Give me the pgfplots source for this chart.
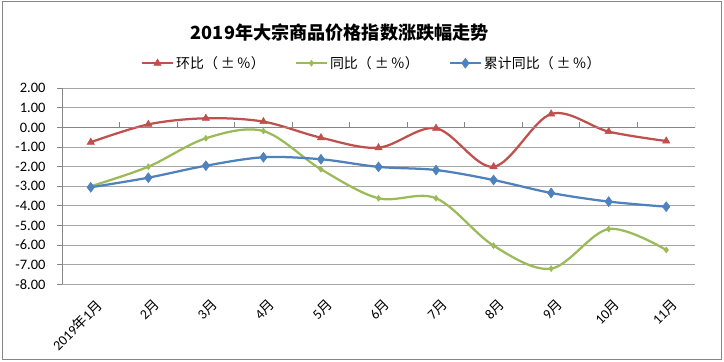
\documentclass[border=0pt]{standalone}
\usepackage{pgfplots}
\pgfplotsset{compat=1.18}
\usepackage{fontspec}
\setmainfont{Carlito}
\newfontfamily\cjk{Noto Sans CJK SC}
\definecolor{cred}{HTML}{C0504D}
\definecolor{cgreen}{HTML}{9BBB59}
\definecolor{cblue}{HTML}{4F81BD}
\definecolor{gridc}{HTML}{A6A6A6}
\definecolor{axc}{HTML}{868686}
\newcommand{\yue}{{\cjk 月}}
\newcommand{\pmpct}{（\hspace{3bp}±\hspace{2bp}％）}
\begin{document}
\begin{tikzpicture}
\useasboundingbox (-62bp,-77.7bp) rectangle (662bp,284.3bp);
\draw[axc, line width=0.9bp] (-59.3bp,-75bp) rectangle (659.7bp,282.6bp);
\begin{axis}[
  at={(0,0)}, anchor=south west,
  scale only axis, width=633bp, height=196bp,
  xmin=-0.5, xmax=10.5, ymin=-8, ymax=2,
  axis lines*=left,
  x axis line style={draw=none},
  y axis line style={axc, line width=0.9bp},
  xtick={0,...,10},
  xticklabels={{2019{\cjk 年}1\yue},{2\yue},{3\yue},{4\yue},{5\yue},{6\yue},{7\yue},{8\yue},{9\yue},{10\yue},{11\yue}},
  x tick style={draw=none},
  xticklabel style={rotate=45, anchor=north east, font=\fontsize{14}{14}\selectfont, inner sep=0pt, xshift=-3bp, yshift=-9bp},
  ytick={-8,...,2},
  y tick style={axc, line width=0.9bp},
  tick align=outside, major tick length=5bp,
  yticklabel style={font=\fontsize{14.5}{14.5}\selectfont, xshift=-8bp},
  /pgf/number format/assume math mode=true,
  yticklabel={\pgfmathprintnumber[fixed, fixed zerofill, precision=2]{\tick}},
  ymajorgrids,
  grid style={gridc, line width=0.9bp},
  title={\cjk\bfseries 2019年大宗商品价格指数涨跌幅走势},
  title style={at={(axis description cs:0.439,1.256)}, anchor=center, font=\fontsize{18.2}{18.2}\selectfont},
  legend columns=3,
  legend style={draw=none, fill=none, at={(axis description cs:0.1243,1.128)}, anchor=west, inner sep=0pt,
    font=\cjk\fontsize{14}{14}\selectfont, /tikz/every even column/.append style={column sep=28bp}},
  legend image code/.code={\draw[mark repeat=2, mark phase=2] plot coordinates {(0bp,0bp)(15.5bp,0bp)(31bp,0bp)};},
  every axis plot/.append style={line width=2.25bp, smooth, tension=0.55},
]
\addplot[cred, mark=triangle*, mark size=4.2bp, mark options={solid, line width=0.5bp}] coordinates {
(0,-0.75)(1,0.16)(2,0.47)(3,0.30)(4,-0.52)(5,-1.03)(6,-0.04)(7,-2.00)(8,0.69)(9,-0.21)(10,-0.69)};
\addlegendentry{环比\pmpct}
\addplot[cgreen, mark=diamond*, mark size=3bp, mark options={solid, line width=0.5bp}] coordinates {
(0,-3.00)(1,-2.00)(2,-0.55)(3,-0.18)(4,-2.13)(5,-3.61)(6,-3.61)(7,-6.03)(8,-7.20)(9,-5.18)(10,-6.25)};
\addlegendentry{同比\pmpct}
\addplot[cblue, mark=diamond*, mark size=5bp, mark options={solid, line width=0.5bp}] coordinates {
(0,-3.05)(1,-2.56)(2,-1.95)(3,-1.52)(4,-1.62)(5,-2.01)(6,-2.17)(7,-2.68)(8,-3.34)(9,-3.78)(10,-4.04)};
\addlegendentry{累计同比\pmpct}
\addplot[ycomb, axc, line width=0.9bp, no marks, forget plot] coordinates {
(0.5,0.27)(1.5,0.27)(2.5,0.27)(3.5,0.27)(4.5,0.27)(5.5,0.27)(6.5,0.27)(7.5,0.27)(8.5,0.27)(9.5,0.27)(10.5,0.27)};
\addplot[axc, line width=0.9bp, no marks, forget plot, sharp plot] coordinates {(-0.5,0)(10.5,0)};
\end{axis}
\end{tikzpicture}
\end{document}
